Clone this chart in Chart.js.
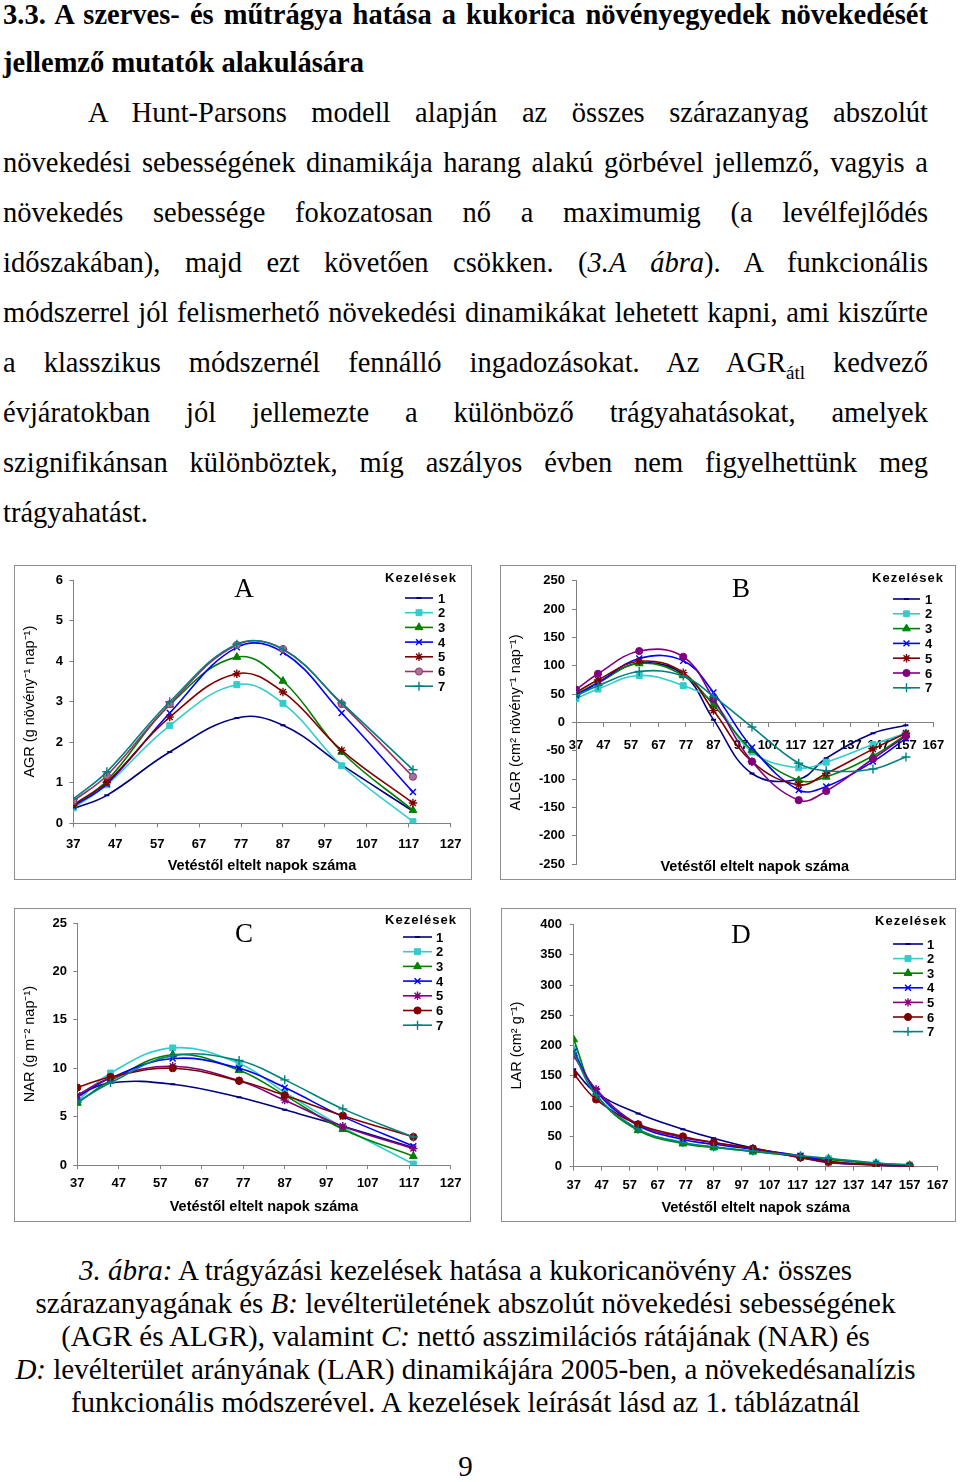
<!DOCTYPE html>
<html lang="hu">
<head>
<meta charset="UTF-8">
<title>3.3. A szerves- és műtrágya hatása</title>
<style>
  body { margin: 0; width: 960px; height: 1482px; background: #fff; position: relative; overflow: hidden;
         font-family: "Liberation Serif", "Times New Roman", serif; color: #000; }
  .ln { position: absolute; left: 3px; width: 925px; font-size: 28.5px; line-height: 50px; }
  .j { text-align: justify; text-align-last: justify; }
  .h { font-weight: bold; }
  .sub { font-size: 19px; position: relative; top: 7px; }
  .box { position: absolute; border: 1px solid #8f8f8f; }
  .box canvas { display: block; }
  .cap { position: absolute; left: 0; width: 931px; text-align: center; font-size: 29px; line-height: 33px; }
</style>
</head>
<body>

<div class="ln h j" style="top:-9.6px">3.3. A szerves- és műtrágya hatása a kukorica növényegyedek növekedését</div>
<div class="ln h" style="top:38.1px">jellemző mutatók alakulására</div>
<div class="ln j" style="top:88.1px; left:88px; width:840px">A Hunt-Parsons modell alapján az összes szárazanyag abszolút</div>
<div class="ln j" style="top:138.1px">növekedési sebességének dinamikája harang alakú görbével jellemző, vagyis a</div>
<div class="ln j" style="top:188.1px">növekedés sebessége fokozatosan nő a maximumig (a levélfejlődés</div>
<div class="ln j" style="top:238.1px">időszakában), majd ezt követően csökken. (<i>3.A ábra</i>). A funkcionális</div>
<div class="ln j" style="top:288.1px">módszerrel jól felismerhető növekedési dinamikákat lehetett kapni, ami kiszűrte</div>
<div class="ln j" style="top:338.1px">a klasszikus módszernél fennálló ingadozásokat. Az AGR<span class="sub">átl</span> kedvező</div>
<div class="ln j" style="top:388.1px">évjáratokban jól jellemezte a különböző trágyahatásokat, amelyek</div>
<div class="ln j" style="top:438.1px">szignifikánsan különböztek, míg aszályos évben nem figyelhettünk meg</div>
<div class="ln" style="top:488.1px">trágyahatást.</div>

<div class="box" style="left:14px; top:565px"><canvas id="chartA" width="456" height="313"></canvas></div>
<div class="box" style="left:500px; top:565px"><canvas id="chartB" width="454" height="313"></canvas></div>
<div class="box" style="left:14px; top:908px"><canvas id="chartC" width="455" height="312"></canvas></div>
<div class="box" style="left:501px; top:908px"><canvas id="chartD" width="453" height="312"></canvas></div>

<div class="cap" style="top:1253.7px">
  <i>3. ábra:</i> A trágyázási kezelések hatása a kukoricanövény <i>A:</i> összes<br>
  szárazanyagának és <i>B:</i> levélterületének abszolút növekedési sebességének<br>
  (AGR és ALGR), valamint <i>C:</i> nettó asszimilációs rátájának (NAR) és<br>
  <i>D:</i> levélterület arányának (LAR) dinamikájára 2005-ben, a növekedésanalízis<br>
  funkcionális módszerével. A kezelések leírását lásd az 1. táblázatnál
</div>
<div class="cap" style="top:1450.4px">9</div>

<script src="https://cdn.jsdelivr.net/npm/chart.js"></script>
<script>
// sampling days (days after sowing)
const days = [37, 45, 60, 76, 87, 101, 118];
const daysLong = [37, 45, 60, 76, 87, 101, 118, 128, 145, 157];
const treatments = ['1', '2', '3', '4', '5', '6', '7'];

// A: AGR (g növény-1 nap-1), one row per treatment
const agr = [
    [0.36, 0.69, 1.76, 2.60, 2.42, 1.44, 0.30],
    [0.38, 0.95, 2.41, 3.42, 2.96, 1.42, 0.04],
    [0.45, 1.05, 2.92, 4.10, 3.51, 1.76, 0.32],
    [0.42, 0.97, 2.72, 4.34, 4.22, 2.72, 0.77],
    [0.45, 1.01, 2.62, 3.69, 3.24, 1.80, 0.50],
    [0.55, 1.18, 2.94, 4.40, 4.30, 2.94, 1.15],
    [0.60, 1.27, 3.00, 4.42, 4.29, 2.97, 1.32]
];

// B: ALGR (cm2 növény-1 nap-1)
const algr = [
    [47, 70, 105, 85, 5, -90, -100, -63, -19, -5],
    [42, 59, 83, 65, 36, -52, -80, -70, -39, -19],
    [50, 70, 104, 83, 31, -49, -102, -96, -59, -22],
    [48, 70, 113, 109, 53, -44, -119, -113, -69, -28],
    [53, 75, 108, 88, 21, -69, -110, -90, -47, -19],
    [58, 86, 126, 116, 42, -69, -137, -121, -64, -24],
    [47, 65, 90, 82, 46, -8, -72, -85, -82, -61]
];

// C: NAR (g m-2 nap-1)
const nar = [
    [7.2, 8.5, 8.35, 7.0, 5.7, 4.0, 1.8],
    [6.6, 9.5, 12.1, 10.5, 7.5, 3.9, 0.1],
    [6.4, 8.7, 11.4, 9.8, 7.2, 3.7, 0.9],
    [7.0, 9.0, 11.0, 10.0, 8.0, 5.0, 1.95],
    [7.2, 9.0, 10.2, 8.7, 6.7, 4.0, 1.7],
    [8.0, 9.1, 10.0, 8.7, 7.2, 5.1, 2.9],
    [6.5, 8.5, 11.3, 10.8, 8.8, 5.8, 2.9]
];

// D: LAR (cm2 g-1)
const lar = [
    [161, 122, 88, 62, 47, 31, 17, 7, 3, 2],
    [195, 125, 62, 40, 32, 25, 17, 13, 6, 3],
    [210, 120, 60, 38, 32, 25, 17, 12, 5, 2],
    [190, 125, 68, 45, 37, 29, 18, 9, 3, 1],
    [183, 128, 70, 48, 40, 30, 15, 7, 3, 1],
    [153, 111, 70, 50, 40, 30, 15, 8, 3, 1],
    [188, 118, 62, 40, 33, 26, 18, 14, 6, 3]
];

// marker styles, Excel-like
const NAVY = '#000080', CYAN = '#33CCCC', GREEN = '#008000', BLUE = '#0000FF',
      DRED = '#800000', PURPLE = '#800080', PLUM = '#993366', TEAL = '#008080';
const mk = {
    dash:  { shape: 'line', r: 2.5, bw: 2 },
    sq:    { shape: 'rect', r: 4.2, bw: 1 },
    tri:   { shape: 'triangle', r: 4.5, bw: 1 },
    x:     { shape: 'crossRot', r: 4.2, bw: 1.4 },
    star:  { shape: 'star', r: 4.2, bw: 1.4 },
    dot:   { shape: 'circle', r: 3.6, bw: 1 },
    plus:  { shape: 'cross', r: 4.5, bw: 1.4 }
};
const stylesAB = [
    { color: NAVY, ...mk.dash }, { color: CYAN, ...mk.sq }, { color: GREEN, ...mk.tri },
    { color: BLUE, ...mk.x }, { color: DRED, ...mk.star }, { color: PURPLE, ...mk.dot },
    { color: TEAL, ...mk.plus }
];
const stylesA = stylesAB.map((s, i) => i === 5 ? { ...s, color: PLUM, fill: '#a8709a' } : s);
const stylesCD = stylesAB.map((s, i) => i === 4 ? { ...s, color: PURPLE } : i === 5 ? { ...s, color: DRED } : s);

const sans = '"Liberation Sans", Arial, sans-serif';
const axisColor = '#808080';

// panel letter + "Kezelések" legend drawn inside the plot
const panelDecor = {
    id: 'panelDecor',
    afterDraw(chart, args, o) {
        const ctx = chart.ctx;
        ctx.save();
        ctx.fillStyle = '#000';
        ctx.textBaseline = 'middle';
        ctx.textAlign = 'center';
        ctx.font = '27px "Liberation Serif", "Times New Roman", serif';
        ctx.fillText(o.letter, o.letterX, o.letterY);

        ctx.font = 'bold 13px ' + sans;
        ctx.letterSpacing = '1px';
        ctx.fillText('Kezelések', o.legX, o.legY);
        ctx.letterSpacing = '0px';
        ctx.textAlign = 'left';
        chart.data.datasets.forEach((ds, i) => {
            const y = o.rowY + i * o.rowH;
            ctx.strokeStyle = ds.borderColor;
            ctx.lineWidth = ds.borderWidth;
            ctx.beginPath();
            ctx.moveTo(o.lineX0, y);
            ctx.lineTo(o.lineX1, y);
            ctx.stroke();
            ctx.fillStyle = ds.pointBackgroundColor;
            ctx.strokeStyle = ds.pointBorderColor;
            ctx.lineWidth = ds.pointBorderWidth;
            Chart.helpers.drawPoint(ctx, {
                pointStyle: ds.pointStyle, radius: ds.pointRadius,
                borderWidth: ds.pointBorderWidth, rotation: 0
            }, (o.lineX0 + o.lineX1) / 2, y);
            ctx.fillStyle = '#000';
            ctx.fillText(ds.label, o.labelX, y + 1);
        });
        ctx.restore();
    }
};

function makeChart(id, c) {
    const datasets = c.values.map((vals, i) => {
        const st = c.styles[i];
        return {
            label: treatments[i],
            data: vals.map((v, k) => ({ x: c.days[k], y: v })),
            borderColor: st.color,
            backgroundColor: st.fill || st.color,
            pointBackgroundColor: st.fill || st.color,
            pointBorderColor: st.color,
            borderWidth: 1.6,
            pointStyle: st.shape,
            pointRadius: st.r,
            pointBorderWidth: st.bw,
            tension: 0.4,
            fill: false,
            order: 7 - i
        };
    });

    new Chart(document.getElementById(id), {
        type: 'line',
        data: { datasets: datasets },
        plugins: [panelDecor],
        options: {
            responsive: false,
            animation: false,
            layout: { padding: c.pad },
            plugins: {
                legend: { display: false },
                tooltip: { enabled: false },
                panelDecor: c.decor
            },
            scales: {
                x: {
                    type: 'linear',
                    min: 37, max: c.xMax,
                    position: c.xPos || 'bottom',
                    ticks: { stepSize: 10, autoSkip: false, maxRotation: 0, padding: c.xTickPad,
                             color: '#000', font: { family: sans, size: 13, weight: 'bold' } },
                    grid: { drawOnChartArea: false, tickLength: 4, color: axisColor },
                    border: { color: axisColor },
                    title: { display: true, text: 'Vetéstől eltelt napok száma', color: '#000',
                             font: { family: sans, size: 14.5, weight: 'bold' },
                             padding: { top: 0, bottom: c.xTitlePad } },
                    afterFit: s => { s.height = c.xHeight; }
                },
                y: {
                    min: c.yMin, max: c.yMax,
                    ticks: { stepSize: c.yStep, padding: c.yTickPad, color: '#000',
                             font: { family: sans, size: 13, weight: 'bold' } },
                    grid: { drawOnChartArea: false, tickLength: 4, color: axisColor },
                    border: { color: axisColor },
                    title: { display: true, text: c.yTitle, color: '#000',
                             font: { family: sans, size: 14.5 },
                             padding: { top: 6.3, bottom: 0 } },
                    afterFit: s => { s.width = c.yWidth; }
                }
            }
        }
    });
}

makeChart('chartA', {
    days: days, values: agr, styles: stylesA, xMax: 127,
    yMin: 0, yMax: 6, yStep: 1, yTitle: 'AGR (g növény⁻¹ nap⁻¹)',
    pad: { left: 0, top: 10.7, right: 20.3, bottom: 0 },
    yWidth: 58.3, xHeight: 55.7, xTickPad: 9, yTickPad: 6.3, xTitlePad: 4.3,
    decor: { letter: 'A', letterX: 229, letterY: 24, legX: 406, legY: 12,
             rowY: 32, rowH: 14.7, lineX0: 390, lineX1: 418, labelX: 423 }
});

makeChart('chartB', {
    days: daysLong, values: algr, styles: stylesAB, xMax: 167, xPos: { y: 0 },
    yMin: -250, yMax: 250, yStep: 50, yTitle: 'ALGR (cm² növény⁻¹ nap⁻¹)',
    pad: { left: 0, top: 11.3, right: 15, bottom: 11.3 },
    yWidth: 75, xHeight: 153.2, xTickPad: 10.7, yTickPad: 7, xTitlePad: 0,
    decor: { letter: 'B', letterX: 240, letterY: 24, legX: 407, legY: 12,
             rowY: 33, rowH: 14.8, lineX0: 392, lineX1: 419, labelX: 424 }
});

makeChart('chartC', {
    days: days, values: nar, styles: stylesCD, xMax: 127,
    yMin: 0, yMax: 25, yStep: 5, yTitle: 'NAR (g m⁻² nap⁻¹)',
    pad: { left: 0, top: 14, right: 19.3, bottom: 0 },
    yWidth: 62.3, xHeight: 56, xTickPad: 6.2, yTickPad: 6.3, xTitlePad: 5.3,
    decor: { letter: 'C', letterX: 229, letterY: 26, legX: 406, legY: 11,
             rowY: 28, rowH: 14.7, lineX0: 388, lineX1: 417, labelX: 421 }
});

makeChart('chartD', {
    days: daysLong, values: lar, styles: stylesCD, xMax: 167,
    yMin: 0, yMax: 400, yStep: 50, yTitle: 'LAR (cm² g⁻¹)',
    pad: { left: 0, top: 14, right: 17.3, bottom: 0 },
    yWidth: 71.7, xHeight: 54.3, xTickPad: 6.5, yTickPad: 7.7, xTitlePad: 4.3,
    decor: { letter: 'D', letterX: 239, letterY: 27, legX: 409, legY: 12,
             rowY: 35, rowH: 14.6, lineX0: 391, lineX1: 421, labelX: 425 }
});
</script>
</body>
</html>
